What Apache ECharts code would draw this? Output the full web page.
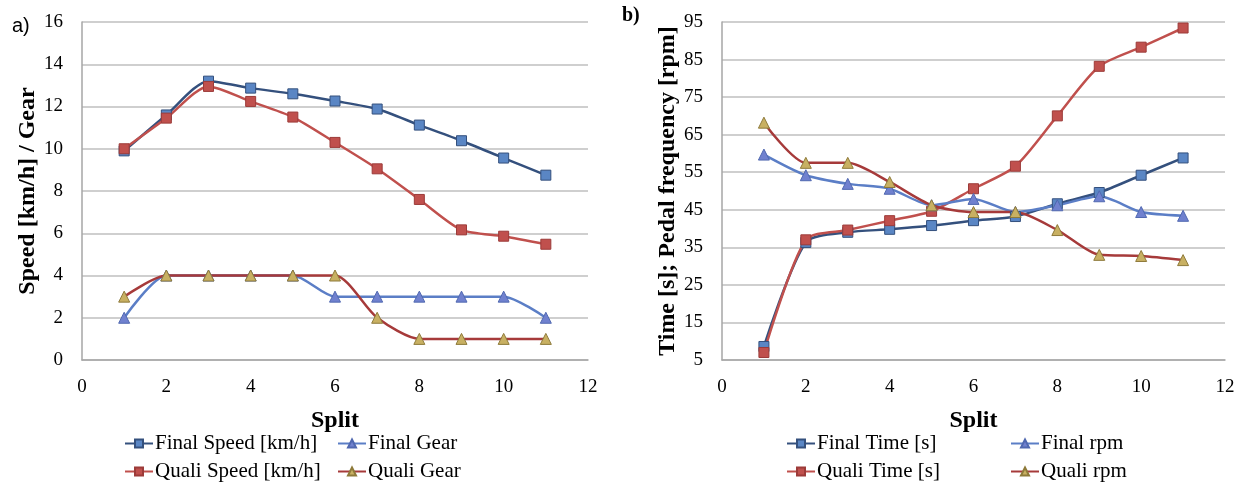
<!DOCTYPE html>
<html><head><meta charset="utf-8">
<script src="https://cdn.jsdelivr.net/npm/echarts@6/dist/echarts.min.js"></script>
<style>html,body{margin:0;padding:0;background:#fff;}#c{width:1239px;height:483px;}</style>
</head><body><div id="c"></div>
<script>
const splits = [1,2,3,4,5,6,7,8,9,10,11];
const finalSpeed = [9.9,11.6,13.2,12.87,12.6,12.26,11.88,11.12,10.38,9.56,8.75];
const qualiSpeed = [10.0,11.45,12.95,12.24,11.5,10.3,9.05,7.6,6.16,5.86,5.48];
const finalGear = [2,4,4,4,4,3,3,3,3,3,2];
const qualiGear = [3,4,4,4,4,4,2,1,1,1,1];
const finalTime = [8.6,36.3,39.0,39.8,40.8,42.1,43.2,46.6,49.6,54.2,58.8];
const qualiTime = [7.0,37.0,39.6,42.1,44.6,50.6,56.6,70.0,83.2,88.3,93.4];
const finalRpm = [59.7,54.2,51.9,50.6,46.2,47.9,44.4,46.2,48.6,44.4,43.4];
const qualiRpm = [68.2,57.5,57.5,52.4,46.2,44.4,44.4,39.6,33.0,32.7,31.6];
const xTicks = [0,2,4,6,8,10,12];

const serif = 'Liberation Serif';
const pair = (ys) => splits.map((x,i)=>[x, ys[i]]);

const styles = {
  fsq: {line:'#34507d', fill:'#5a86c4', border:'#34507d', symbol:'rect', size:10},
  qsq: {line:'#c0504d', fill:'#c0504d', border:'#9c3b39', symbol:'rect', size:10},
  ftr: {line:'#5b7ec6', fill:'#7081cf', border:'#5068b0', symbol:'triangle', size:11},
  qtr: {line:'#a63a3a', fill:'#c8b062', border:'#8e7a3a', symbol:'triangle', size:11}
};
function mk(name, data, st, gi){
  return {
    name, type:'line', data:pair(data), xAxisIndex:gi, yAxisIndex:gi,
    smooth:0.25, symbol:st.symbol, symbolSize:st.size,
    lineStyle:{color:st.line, width:2.5},
    itemStyle:{color:st.fill, borderColor:st.border, borderWidth:1},
    emphasis:{disabled:true}, z: 3
  };
}
function xAx(gi){
  return {
    type:'value', gridIndex:gi, min:0, max:12, interval:2,
    name:'Split', nameLocation:'middle', nameGap:49,
    nameTextStyle:{fontFamily:serif, fontWeight:'bold', fontSize:24, color:'#000'},
    axisLine:{show:true, lineStyle:{color:'#a6a6a6', width:1.5}},
    axisTick:{show:false},
    splitLine:{show:false},
    axisLabel:{fontFamily:serif, fontSize:19, color:'#000', margin:18}
  };
}
function yAx(gi, min, max, interval, name, gap){
  return {
    type:'value', gridIndex:gi, min, max, interval,
    name, nameLocation:'middle', nameGap:gap,
    nameTextStyle:{fontFamily:serif, fontWeight:'bold', fontSize:24, color:'#000'},
    axisLine:{show:true, lineStyle:{color:'#a6a6a6', width:1.5}},
    axisTick:{show:false},
    splitLine:{show:true, lineStyle:{color:'#bfbfbf', width:1.5}},
    axisLabel:{fontFamily:serif, fontSize:19, color:'#000', margin:19}
  };
}
function lg(name, left, top){
  return {data:[name], left, top, itemWidth:28, itemHeight:10, itemGap:2, padding:0,
    selectedMode:false,
    textStyle:{fontFamily:serif, fontSize:21, color:'#000', padding:[0,0,0,-3]}};
}
const chart = echarts.init(document.getElementById('c'));
chart.setOption({
  animation:false,
  grid:[
    {left:82, right:651, top:22, bottom:123},
    {left:722, right:14, top:22, bottom:123}
  ],
  xAxis:[xAx(0), xAx(1)],
  yAxis:[
    yAx(0, 0, 16, 2, 'Speed [km/h] / Gear', 42),
    yAx(1, 5, 95, 10, 'Time [s]; Pedal frequency [rpm]', 41)
  ],
  legend:[
    lg('Final Speed [km/h]', 124, 433),
    lg('Final Gear', 337, 433),
    lg('Quali Speed [km/h]', 124, 461),
    lg('Quali Gear', 337, 461),
    lg('Final Time [s]', 786, 433),
    lg('Final rpm', 1010, 433),
    lg('Quali Time [s]', 786, 461),
    lg('Quali rpm', 1010, 461)
  ],
  graphic:[
    {type:'text', left:12, top:16, style:{text:'a)', font:'20px "Liberation Sans"', fill:'#000'}},
    {type:'text', left:622, top:6, style:{text:'b)', font:'bold 20px "Liberation Serif"', fill:'#000'}}
  ],
  series:[
    mk('Final Speed [km/h]', finalSpeed, styles.fsq, 0),
    mk('Quali Speed [km/h]', qualiSpeed, styles.qsq, 0),
    mk('Final Gear', finalGear, styles.ftr, 0),
    mk('Quali Gear', qualiGear, styles.qtr, 0),
    mk('Final Time [s]', finalTime, styles.fsq, 1),
    mk('Quali Time [s]', qualiTime, styles.qsq, 1),
    mk('Final rpm', finalRpm, styles.ftr, 1),
    mk('Quali rpm', qualiRpm, styles.qtr, 1)
  ]
});
</script></body></html>
